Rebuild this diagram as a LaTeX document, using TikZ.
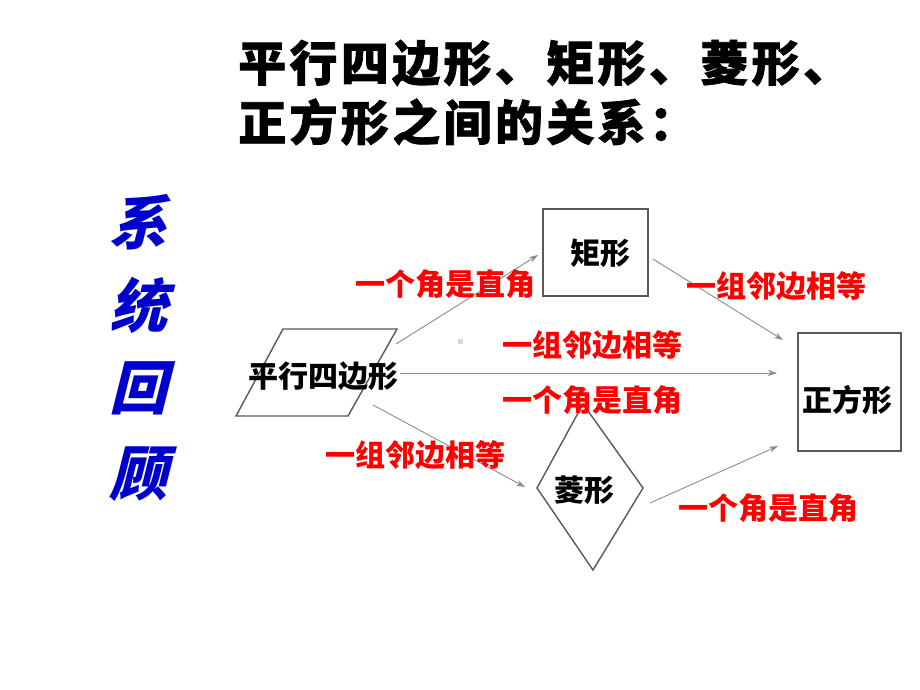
\documentclass[tikz,border=0pt]{standalone}
\usepackage{fontspec}
\newfontfamily\cjk{Noto Sans CJK SC}
\newfontfamily\cjktitle[LetterSpace=7,FakeBold=1.5]{Noto Sans CJK SC}
\newfontfamily\cjkslant[FakeSlant=0.25]{Noto Sans CJK SC}
\usetikzlibrary{arrows.meta}
\definecolor{titleblue}{RGB}{0,0,204}
\begin{document}
\begin{tikzpicture}[x=1pt,y=-1pt,
  shapeline/.style={draw=black!65, line width=1.4pt},
  conn/.style={draw=black!45, line width=0.9pt, -{Stealth[length=9pt,width=6pt]}},
  redlabel/.style={text=red, font=\cjk\bfseries\fontsize{30}{30}\selectfont, inner sep=0pt},
  shapetext/.style={font=\cjk\bfseries\fontsize{30}{30}\selectfont, inner sep=0pt},
  titletext/.style={font=\cjktitle\bfseries\fontsize{48}{48}\selectfont, inner sep=0pt, anchor=west},
  sidetext/.style={text=titleblue, font=\cjkslant\bfseries\fontsize{58}{58}\selectfont, inner sep=0pt}]
\useasboundingbox[fill=white] (0,0) rectangle (920,690);

% title
\node[titletext] (t1) at (238,63) {平行四边形、矩形、菱形、};
\node[titletext] (t2) at (238,122) {正方形之间的关系：};

% side text
\node[sidetext] (s1) at (138,222) {系};
\node[sidetext] (s2) at (138,305) {统};
\node[sidetext] (s3) at (138,388) {回};
\node[sidetext] (s4) at (138,474) {顾};

% shapes
\node[shapeline, minimum width=105pt, minimum height=87pt, inner sep=0pt] (rect) at (595.5,252.5) {};
\node[shapetext] (recttext) at (600,253) {矩形};

\node[shapeline, minimum width=103pt, minimum height=118pt, inner sep=0pt] (sq) at (849.5,392) {};
\node[shapetext] (sqtext) at (847,400) {正方形};

\draw[shapeline] (283,329) -- (397,329) -- (348,416) -- (236,416) -- cycle;
\node[shapetext] (paratext) at (323,376) {平行四边形};

\draw[shapeline] (583,404) -- (643,488) -- (593,570) -- (537,488) -- cycle;
\node[shapetext] (rhtext) at (584,490) {菱形};

% connector end points
\coordinate (p1) at (396,344);
\coordinate (r1) at (538,255);
\coordinate (r2) at (653,259);
\coordinate (q1) at (783,340);
\coordinate (p2) at (400,373);
\coordinate (q2) at (777,373);
\coordinate (p3) at (373,405);
\coordinate (d1) at (525,487);
\coordinate (d2) at (650,503);
\coordinate (q3) at (778,446);

\draw[conn] (p1) -- (r1);
\draw[conn] (r2) -- (q1);
\draw[conn] (p2) -- (q2);
\draw[conn] (p3) -- (d1);
\draw[conn] (d2) -- (q3);

% small grey mark
\fill[black!15] (458,339) rectangle (463,344);

% labels
\node[redlabel] (l1) at (445,284) {一个角是直角};
\node[redlabel] (l2) at (776,286) {一组邻边相等};
\node[redlabel] (l3) at (592,345) {一组邻边相等};
\node[redlabel] (l4) at (592,400) {一个角是直角};
\node[redlabel] (l5) at (415,455) {一组邻边相等};
\node[redlabel] (l6) at (768,508) {一个角是直角};
\end{tikzpicture}
\end{document}
